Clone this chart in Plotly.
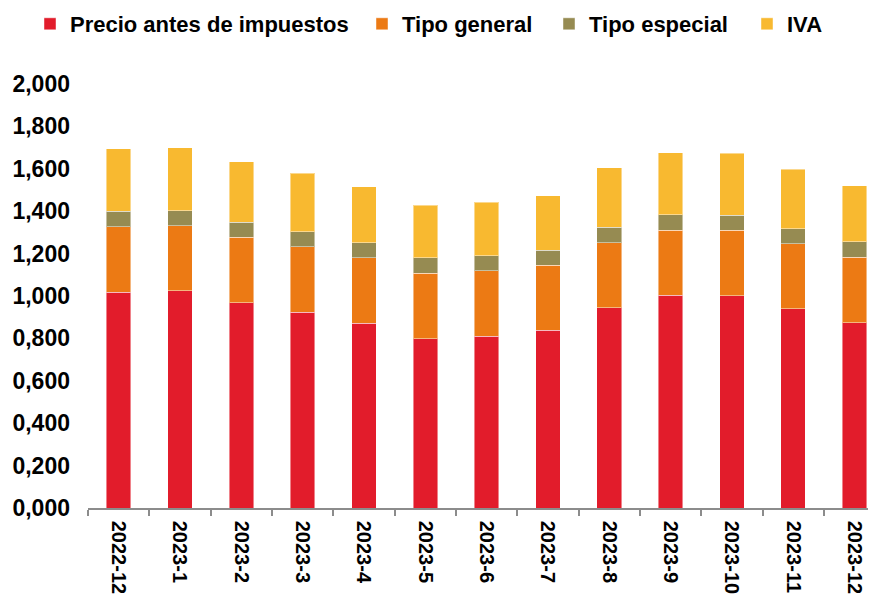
import plotly.graph_objects as go

categories = ["2022-12", "2023-1", "2023-2", "2023-3", "2023-4", "2023-5", "2023-6",
              "2023-7", "2023-8", "2023-9", "2023-10", "2023-11", "2023-12"]
precio = [1.017, 1.024, 0.968, 0.924, 0.871, 0.798, 0.809, 0.838, 0.945, 1.003, 1.002, 0.940, 0.874]
tipo_general = [0.309, 0.308, 0.308, 0.308, 0.309, 0.309, 0.309, 0.307, 0.307, 0.308, 0.307, 0.307, 0.309]
tipo_especial = [0.073, 0.071, 0.072, 0.072, 0.072, 0.074, 0.073, 0.072, 0.073, 0.072, 0.071, 0.071, 0.072]
iva = [0.295, 0.297, 0.286, 0.276, 0.263, 0.248, 0.252, 0.257, 0.280, 0.292, 0.293, 0.279, 0.265]

series = [
    ("Precio antes de impuestos", precio, "#E21C2B", "legend", 22),
    ("Tipo general", tipo_general, "#EC7A14", "legend2", 354),
    ("Tipo especial", tipo_especial, "#968B52", "legend3", 541),
    ("IVA", iva, "#F8B930", "legend4", 739),
]

# page body has an 8px margin, so the figure is slightly smaller than the window
W, H = 868, 586
fig = go.Figure()
for name, vals, color, lg, _ in series:
    fig.add_trace(go.Bar(
        x=categories, y=vals, name=name, legend=lg, showlegend=True,
        marker=dict(color=color, line=dict(color="rgba(255,255,255,0.45)", width=1)),
    ))

legend_common = dict(
    orientation="h", xref="container", yref="container",
    yanchor="middle", xanchor="left", y=1 - 16 / H,
    font=dict(family="Liberation Sans, Arial, sans-serif", size=22, color="black", weight="bold"),
    bgcolor="rgba(0,0,0,0)", borderwidth=0,
)
layout_legends = {}
for name, vals, color, lg, px in series:
    layout_legends[lg] = dict(legend_common, x=px / W)

fig.update_layout(
    width=W, height=H,
    margin=dict(l=80, r=0, t=76, b=86, autoexpand=False),
    showlegend=True,
    barmode="stack", bargap=0.6,
    plot_bgcolor="white", paper_bgcolor="white",
    separators=",.",
    font=dict(family="Liberation Sans, Arial, sans-serif", size=21, color="black", weight="bold"),
    **layout_legends,
)
fig.update_xaxes(
    type="category", range=[-0.5, 12.35],
    showline=True, linecolor="#8C8C8C", linewidth=1.5,
    ticks="outside", tickson="boundaries", ticklen=6, tickcolor="#8C8C8C", tickwidth=1.5,
    tickangle=90, showgrid=False, ticklabelstandoff=7,
    tickfont=dict(size=20),
)
fig.update_yaxes(
    range=[0, 2.0], dtick=0.2, tick0=0, tickformat=".3f",
    showgrid=False, zeroline=False, showline=False, ticks="",
    ticklabelstandoff=17,
    tickfont=dict(size=23),
)
fig.write_html("out.html")
